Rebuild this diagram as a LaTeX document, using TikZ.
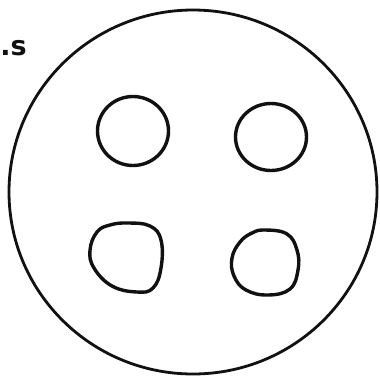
\documentclass[tikz,border=0pt]{standalone}
\usepackage{fontspec}
\setsansfont{DejaVu Sans}
\usetikzlibrary{positioning}
\definecolor{pencil}{HTML}{111111}
\tikzset{
  cl wall/.style={draw=pencil, line width=2.8pt},
  cl blob/.style={draw=pencil, line width=3.4pt, line join=round},
  cl tag/.style={font=\sffamily\bfseries\fontsize{27}{27}\selectfont, text=pencil, inner sep=0pt},
}
\begin{document}
\begin{tikzpicture}[x=1pt, y=-1pt]
  \useasboundingbox (0,0) rectangle (380,376);
  % outer wall
  \draw[cl wall] (193,192) ellipse [x radius=184, y radius=182];
  % four inner blobs
  \draw[cl blob] (133,131) ellipse [x radius=35.5, y radius=34.5];
  \draw[cl blob] (271,137) ellipse [x radius=35.5, y radius=33.5];
  \draw[cl blob] plot[smooth cycle, tension=0.7] coordinates {(128,223) (150,226) (161,240) (161,268) (153,288) (137,292) (112,286) (94,268) (90,250) (97,232) (110,225)};
  \draw[cl blob] plot[smooth cycle, tension=0.7] coordinates {(265,230) (287,234) (297,250) (298,270) (290,289) (268,295) (246,290) (234,276) (232,258) (240,242) (252,233)};
  % cut-off label
  \node[cl tag, anchor=base east] (tag) at (27,55) {.s};
\end{tikzpicture}
\end{document}
